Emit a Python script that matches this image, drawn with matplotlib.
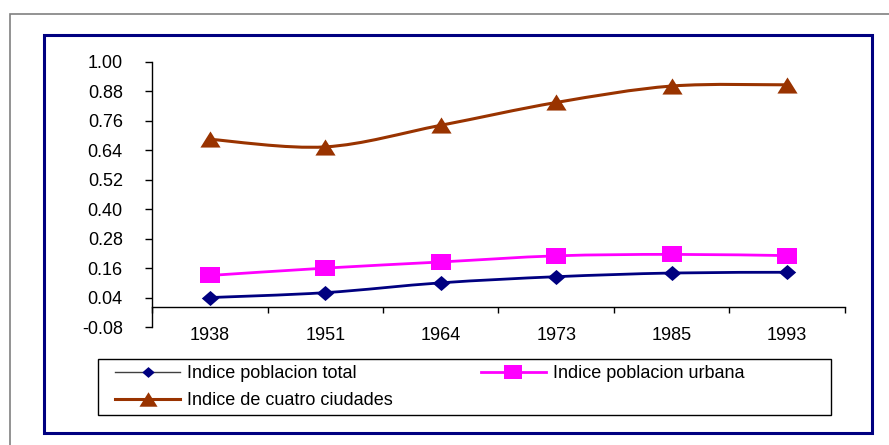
import numpy as np
import matplotlib.pyplot as plt
from matplotlib.path import Path
from matplotlib.patches import PathPatch, Rectangle
from matplotlib.lines import Line2D

plt.rcParams['font.family'] = ['Liberation Sans', 'DejaVu Sans']

#Chart data
years = ['1938', '1951', '1964', '1973', '1985', '1993']
total = [0.040, 0.060, 0.100, 0.125, 0.140, 0.143]
urbana = [0.130, 0.160, 0.185, 0.210, 0.216, 0.211]
ciudades = [0.685, 0.654, 0.742, 0.835, 0.902, 0.907]
labels = ['Indice poblacion total', 'Indice poblacion urbana', 'Indice de cuatro ciudades']
yticks = [-0.08, 0.04, 0.16, 0.28, 0.40, 0.52, 0.64, 0.76, 0.88, 1.00]

W, H = 889, 445
fig = plt.figure(figsize=(W / 100, H / 100), dpi=100)

#Outer gray border (only top and left visible), blue chart frame, legend box
fig.patches.append(Rectangle((10 / W, -0.1), 1.2, 1 - 14 / H + 0.1, transform=fig.transFigure,
                             fill=False, edgecolor='#808080', linewidth=1.2))
fig.patches.append(Rectangle((43.5 / W, 1 - 432.5 / H), 828 / W, 398 / H, transform=fig.transFigure,
                             fill=False, edgecolor='#000080', linewidth=2.2))
fig.patches.append(Rectangle((98 / W, 1 - 415 / H), 733 / W, 56 / H, transform=fig.transFigure,
                             fill=False, edgecolor='black', linewidth=1.0))

ax = fig.add_axes([152 / W, 1 - 327 / H, 693 / W, 265 / H])
ax.set_xlim(-0.5, 5.5)
ax.set_ylim(-0.08, 1.00)


def smooth_path(xs, ys):
    #Excel-style smoothed line: cubic Bezier segments with Catmull-Rom control points
    pts = np.column_stack([xs, ys]).astype(float)
    ext = np.vstack([pts[0], pts, pts[-1]])
    verts = [pts[0]]
    codes = [Path.MOVETO]
    for i in range(len(pts) - 1):
        p0, p1, p2, p3 = ext[i], ext[i + 1], ext[i + 2], ext[i + 3]
        verts += [p1 + (p2 - p0) / 6, p2 - (p3 - p1) / 6, p2]
        codes += [Path.CURVE4] * 3
    return Path(verts, codes)


diamond = [(0, 1), (1.15, 0), (0, -1), (-1.15, 0)]
square = [(-1, -0.78), (1, -0.78), (1, 0.78), (-1, 0.78)]
triangle = [(0, 0.8), (1, -0.8), (-1, -0.8)]

x = np.arange(len(years))
series = [
    (total, '#000080', 2.0, diamond, 12.5),
    (urbana, '#FF00FF', 2.0, square, 14.5),
    (ciudades, '#993300', 2.2, triangle, 14.5),
]
for vals, col, lw, mk, ms in series:
    ax.add_patch(PathPatch(smooth_path(x, vals), fill=False, edgecolor=col, linewidth=lw,
                           capstyle='round', joinstyle='round', zorder=2))
    ax.plot(x, vals, linestyle='none', marker=mk, markersize=ms, color=col,
            markeredgewidth=0, zorder=3)

#Axes: y axis on the left, category axis crossing at 0
for side in ['top', 'right']:
    ax.spines[side].set_visible(False)
ax.spines['bottom'].set_position(('data', 0))
ax.spines['left'].set_bounds(-0.08, 1.00)
for side in ['bottom', 'left']:
    ax.spines[side].set_linewidth(1.0)
    ax.spines[side].set_color('black')

ax.set_yticks(yticks)
ax.set_yticklabels(['%.2f' % v for v in yticks])
ax.tick_params(axis='y', direction='out', length=5, width=1, pad=16, labelsize=13)

ax.set_xticks(np.arange(-0.5, 6.0, 1.0))
ax.set_xticklabels([])
ax.set_xticks(x, minor=True)
ax.set_xticklabels(years, minor=True)
ax.tick_params(axis='x', which='major', direction='out', length=4.5, width=1)
ax.tick_params(axis='x', which='minor', length=0, pad=14, labelsize=13)

#Legend (row-wise order: total, urbana / cuatro ciudades)
h_total = Line2D([], [], color='#404040', linewidth=1.0, marker=diamond, markersize=9,
                 markerfacecolor='#000080', markeredgewidth=0)
h_urbana = Line2D([], [], color='#FF00FF', linewidth=2.0, marker=square, markersize=13,
                  markeredgewidth=0)
h_ciud = Line2D([], [], color='#993300', linewidth=2.2, marker=triangle, markersize=13,
                markeredgewidth=0)
leg = fig.legend([h_total, h_ciud, h_urbana], [labels[0], labels[2], labels[1]], ncol=2,
                 loc='upper left', bbox_to_anchor=(115 / W, 1 - 365 / H),
                 frameon=False, fontsize=13, handlelength=3.6, handletextpad=0.4,
                 columnspacing=4.87, labelspacing=0.55, borderaxespad=0, borderpad=0)

fig.savefig('out.png', dpi=100)
